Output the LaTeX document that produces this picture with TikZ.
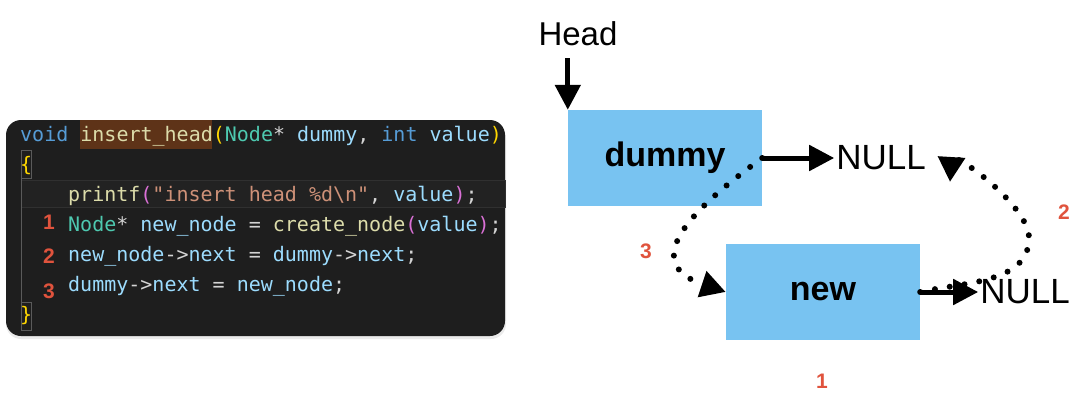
\documentclass[tikz,border=0pt]{standalone}
\usepackage{fontspec}
\setmainfont{Liberation Sans}
\setmonofont{DejaVu Sans Mono}
\usepackage{xcolor}
\usepackage{tikz}
\usetikzlibrary{arrows.meta, positioning, calc}

\definecolor{boxblue}{HTML}{78C3F1}
\definecolor{stepred}{HTML}{E0533D}
\definecolor{codebg}{HTML}{1E1E1E}
\definecolor{codetext}{HTML}{D4D4D4}
\definecolor{codekw}{HTML}{569CD6}
\definecolor{codefn}{HTML}{DCDCAA}
\definecolor{codetype}{HTML}{4EC9B0}
\definecolor{codevar}{HTML}{9CDCFE}
\definecolor{codestr}{HTML}{CE9178}
\definecolor{codebrA}{HTML}{FFD700}
\definecolor{codebrB}{HTML}{DA70D6}
\definecolor{codehl}{HTML}{5E3318}
\definecolor{codecur}{HTML}{222222}
\definecolor{codecurline}{HTML}{303030}
\definecolor{codeguide}{HTML}{5A5A5A}

\newcommand{\cKw}[1]{\textcolor{codekw}{#1}}
\newcommand{\cFn}[1]{\textcolor{codefn}{#1}}
\newcommand{\cTy}[1]{\textcolor{codetype}{#1}}
\newcommand{\cVar}[1]{\textcolor{codevar}{#1}}
\newcommand{\cStr}[1]{\textcolor{codestr}{#1}}
\newcommand{\cBa}[1]{\textcolor{codebrA}{#1}}
\newcommand{\cBb}[1]{\textcolor{codebrB}{#1}}

\begin{document}
\begin{tikzpicture}[
  x=1pt, y=-1pt,
  listbox/.style={fill=boxblue, minimum width=194pt, minimum height=96pt, inner sep=0pt, font=\fontsize{34}{40}\selectfont\bfseries},
  nulltext/.style={inner sep=2pt, font=\fontsize{35}{42}\selectfont},
  steplabel/.style={inner sep=0pt, text=stepred, font=\fontsize{21}{24}\selectfont\bfseries},
  codeline/.style={anchor=base west, inner sep=0pt, text=codetext, font=\ttfamily\fontsize{20}{24}\selectfont},
  arrow/.style={line width=5pt, -{Triangle[length=25pt, width=25pt]}},
  dotarrow/.style={line width=6pt, line cap=round, dash pattern=on 0pt off 15pt, -{Triangle[length=25pt, width=26pt]}}
]
\useasboundingbox (0,0) rectangle (1082,402);

% Code panel
\fill[black!8, rounded corners=15pt] (6,123) rectangle (506,339);
\fill[codebg, rounded corners=15pt] (6,120) rectangle (505,336);
\filldraw[fill=codecur, draw=codecurline, line width=1pt] (21,180) rectangle (505,207);
\fill[codehl] (80,120) rectangle (212,149);
\draw[codeguide, line width=1pt] (21,150) rectangle (31,178);
\draw[codeguide, line width=1pt] (21,302) rectangle (31,330);
\draw[codeguide, line width=1pt] (21,178) -- (21,302);

\node[codeline] (c1) at (20,141) {\cKw{void} \cFn{insert\_head}\cBa{(}\cTy{Node}* \cVar{dummy}, \cKw{int} \cVar{value}\cBa{)}};
\node[codeline] (c2) at (20,171) {\cBa{\{}};
\node[codeline] (c3) at (68,201) {\cFn{printf}\cBb{(}\cStr{"insert head \%d\textbackslash n"}, \cVar{value}\cBb{)};};
\node[codeline] (c4) at (68,231) {\cTy{Node}* \cVar{new\_node} = \cFn{create\_node}\cBb{(}\cVar{value}\cBb{)};};
\node[codeline] (c5) at (68,261) {\cVar{new\_node}->\cVar{next} = \cVar{dummy}->\cVar{next};};
\node[codeline] (c6) at (68,291) {\cVar{dummy}->\cVar{next} = \cVar{new\_node};};
\node[codeline] (c7) at (20,321) {\cBa{\}}};

\node[steplabel] (n1) at (49,222) {1};
\node[steplabel] (n2) at (49,256) {2};
\node[steplabel] (n3) at (49,291) {3};

% List nodes
\node[listbox] (dummy) at (665,158) {dummy};
\node[listbox] (new) at (823,292) {new};
\node[nulltext, font=\fontsize{33}{40}\selectfont] (head) at (578,34) {Head};
\node[nulltext, anchor=west, right=72pt of dummy] (null1) {NULL};
\node[nulltext, anchor=west, right=58pt of new] (null2) {NULL};
\coordinate (bend2) at (1029,238);
\coordinate (ret2) at (950,182);

% Relinking steps
\draw[dotarrow] (dummy.east) .. controls +(-66,48) and +(-90,-30) .. (new.west);
\draw[dotarrow] (new.east) .. controls +(45,-10) and +(0,45) .. (bend2) .. controls +(0,-33) and +(2,-32) .. (ret2);

\draw[arrow, shorten <=10pt] (head.south -| dummy.north west) -- (dummy.north west);
\draw[arrow] (dummy.east) -- (null1.west);
\draw[arrow] (new.east) -- (null2.west);

\node[steplabel] (s3) at (646,251) {3};
\node[steplabel] (s2) at (1064,212) {2};
\node[steplabel] (s1) at (822,381) {1};

\end{tikzpicture}
\end{document}
